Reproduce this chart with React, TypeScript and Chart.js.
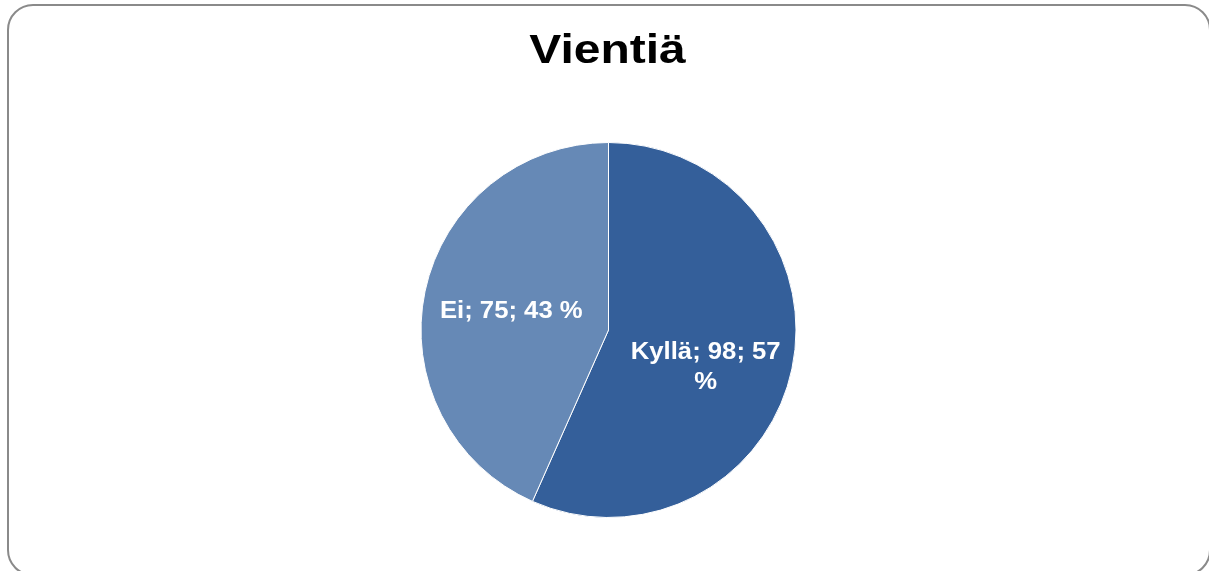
import React, { useEffect, useRef } from "react";
import { Chart, registerables } from "chart.js";

Chart.register(...registerables);

const chartTitle = "Vientiä";
const categories = ["Kyllä", "Ei"];
const counts = [98, 75];
const percents = [57, 43];
const sliceColors = ["#345F9A", "#6689B6"];

const FONT = '"Liberation Sans", Arial, sans-serif';

export default function App() {
  const ref = useRef<HTMLCanvasElement>(null);

  useEffect(() => {
    document.body.style.margin = "0";
    const canvas = ref.current;
    if (!canvas) return;

    const framePlugin = {
      id: "frame",
      beforeDraw(chart: any) {
        const ctx = chart.ctx;
        ctx.save();
        ctx.fillStyle = "#ffffff";
        ctx.fillRect(0, 0, chart.width, chart.height);
        ctx.strokeStyle = "#8a8a8a";
        ctx.lineWidth = 2;
        ctx.beginPath();
        ctx.roundRect(8, 5, 1202, 570, 25);
        ctx.stroke();
        ctx.restore();
      },
    };

    const titlePlugin = {
      id: "titleText",
      afterDraw(chart: any) {
        const ctx = chart.ctx;
        ctx.save();
        ctx.fillStyle = "#000000";
        ctx.font = `bold 40px ${FONT}`;
        ctx.textAlign = "center";
        ctx.textBaseline = "alphabetic";
        ctx.translate(607.5, 63);
        ctx.scale(1.2, 1);
        ctx.fillText(chartTitle, 0, 0);
        ctx.restore();
      },
    };

    const labelPlugin = {
      id: "sliceLabels",
      afterDatasetsDraw(chart: any) {
        const ctx = chart.ctx;
        const meta = chart.getDatasetMeta(0);
        const size = 24;
        const sx = 1.07;
        const capH = size * 0.716;
        ctx.save();
        ctx.fillStyle = "#ffffff";
        ctx.font = `bold ${size}px ${FONT}`;
        ctx.textAlign = "center";
        ctx.textBaseline = "alphabetic";
        const maxWidth = 165;
        const lineH = 30;
        meta.data.forEach((arc: any, i: number) => {
          const p = arc.getProps(["x", "y", "startAngle", "endAngle", "outerRadius"], true);
          const mid = (p.startAngle + p.endAngle) / 2;
          const r = p.outerRadius * 0.53;
          const cx = p.x + Math.cos(mid) * r;
          const cy = p.y + Math.sin(mid) * r;
          const text = `${categories[i]}; ${counts[i]}; ${percents[i]} %`;
          const words = text.split(" ");
          const lines: string[] = [];
          let cur = "";
          for (const w of words) {
            const test = cur ? cur + " " + w : w;
            if (cur && ctx.measureText(test).width * sx > maxWidth) {
              lines.push(cur);
              cur = w;
            } else {
              cur = test;
            }
          }
          if (cur) lines.push(cur);
          lines.forEach((ln, k) => {
            ctx.save();
            ctx.translate(cx, cy + capH / 2 + k * lineH);
            ctx.scale(sx, 1);
            ctx.fillText(ln, 0, 0);
            ctx.restore();
          });
        });
        ctx.restore();
      },
    };

    const chart = new Chart(canvas, {
      type: "pie",
      data: {
        labels: categories,
        datasets: [
          {
            data: counts,
            backgroundColor: sliceColors,
            borderColor: "#ffffff",
            borderWidth: 1,
          },
        ],
      },
      options: {
        animation: false,
        responsive: true,
        maintainAspectRatio: false,
        layout: { padding: { left: 8, right: 0, top: 142, bottom: 53 } },
        plugins: {
          legend: { display: false },
          tooltip: { enabled: false },
          title: { display: false },
        },
      },
      plugins: [framePlugin, titlePlugin, labelPlugin],
    });

    return () => chart.destroy();
  }, []);

  return (
    <div style={{ position: "fixed", left: 0, top: 0, width: 1209, height: 571 }}>
      <canvas ref={ref} />
    </div>
  );
}
